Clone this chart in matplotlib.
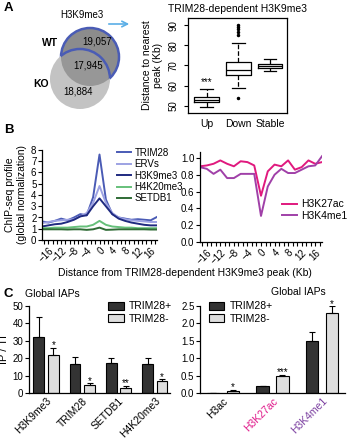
import matplotlib
matplotlib.use('Agg')
import matplotlib.pyplot as plt
import numpy as np
from matplotlib.patches import Circle
from matplotlib.ticker import MultipleLocator

plt.rcParams['font.family'] = ['Liberation Sans', 'DejaVu Sans']
plt.rcParams['axes.linewidth'] = 0.9

# ---- data ----
# A: venn counts
venn_wt_only = 19057
venn_both = 17945
venn_ko_only = 18884

# A: boxplot stats (distance to nearest peak, Kb)
box_labels = ['Up', 'Down', 'Stable']
box_q1 = [51.8, 65.3, 68.9]
box_med = [52.8, 68.0, 69.8]
box_q3 = [54.3, 71.6, 70.6]
box_lo = [49.3, 58.7, 67.3]
box_hi = [58.2, 81.0, 73.1]
box_fliers = [[], [54.1, 85.2, 86.7, 88.2, 89.2, 90.2], []]

# B: profiles
dist = [-18, -16, -14, -12, -10, -8, -6, -4, -2, 0, 2, 4, 6, 8, 10, 12, 14, 16, 18]
trim28 = [1.65, 1.55, 1.7, 1.9, 1.75, 2.0, 2.3, 2.2, 3.8, 7.6, 3.6, 2.3, 2.0, 1.9, 1.8, 1.85, 1.8, 1.75, 2.05]
ervs = [1.5, 1.6, 1.7, 1.75, 1.8, 1.85, 2.1, 2.4, 3.3, 4.8, 3.3, 2.4, 2.0, 1.85, 1.75, 1.7, 1.65, 1.6, 1.6]
h3k9me3 = [1.2, 1.3, 1.4, 1.45, 1.6, 1.8, 2.1, 2.2, 3.0, 3.7, 3.0, 2.3, 1.9, 1.7, 1.55, 1.45, 1.35, 1.3, 1.3]
h4k20me3 = [1.05, 1.05, 1.1, 1.1, 1.1, 1.15, 1.2, 1.2, 1.35, 1.7, 1.35, 1.2, 1.15, 1.1, 1.1, 1.05, 1.05, 1.05, 1.05]
setdb1 = [0.95, 0.95, 0.95, 0.95, 0.93, 0.95, 0.95, 0.9, 0.95, 1.1, 0.9, 0.92, 0.95, 0.95, 0.95, 0.95, 0.95, 0.93, 0.93]
h3k27ac = [0.90, 0.91, 0.93, 0.97, 0.93, 0.90, 0.96, 0.95, 0.91, 0.55, 0.84, 0.92, 0.90, 0.97, 0.86, 0.89, 0.97, 0.93, 0.95]
h3k4me1 = [0.89, 0.87, 0.81, 0.86, 0.76, 0.76, 0.81, 0.81, 0.81, 0.31, 0.66, 0.80, 0.87, 0.82, 0.82, 0.86, 0.90, 0.91, 1.02]

# C: ChIP-qPCR global IAPs
c1_marks = ['H3K9me3', 'TRIM28', 'SETDB1', 'H4K20me3']
c1_pos = [32.0, 16.5, 17.5, 16.5]
c1_pos_err = [11.5, 4.0, 2.7, 3.5]
c1_neg = [22.0, 4.5, 3.0, 7.0]
c1_neg_err = [4.0, 1.0, 1.3, 1.0]
c1_stars = ['*', '*', '**', '*']

c2_marks = ['H3ac', 'H3K27ac', 'H3K4me1']
c2_pos = [0.01, 0.2, 1.5]
c2_pos_err = [0.0, 0.015, 0.24]
c2_neg = [0.07, 0.5, 2.3]
c2_neg_err = [0.02, 0.02, 0.19]
c2_stars = ['*', '***', '*']
c2_colors = ['black', '#e0198a', '#7b3fa0']

W, H = 347, 440
fig = plt.figure(figsize=(W / 100, H / 100), dpi=100)


def px_axes(x0, y0, x1, y1):
    return fig.add_axes([x0 / W, 1 - y1 / H, (x1 - x0) / W, (y1 - y0) / H])


def ftext(x, y, s, **kw):
    fig.text(x / W, 1 - y / H, s, **kw)


# ---- A: venn ----
ax = px_axes(0, 0, 170, 130)
ax.set_xlim(0, 170)
ax.set_ylim(130, 0)
ax.axis('off')
blue = '#4a5cb5'
wt = Circle((90, 57), 29, fc='#8c8c8c', ec='none')
ax.add_patch(wt)
ax.add_patch(Circle((90, 57), 29, fill=False, ec=blue, lw=1.8))
ax.add_patch(Circle((80, 79), 30, fc='#c3c3c3', ec='none'))
inter = Circle((80, 79), 30, fc='#979797', ec='none')
ax.add_patch(inter)
inter.set_clip_path(wt)
arc = Circle((80, 79), 30, fill=False, ec=blue, lw=1.8)
ax.add_patch(arc)
arc.set_clip_path(wt)
ax.text(97, 42, f'{venn_wt_only:,}', ha='center', va='center', fontsize=7)
ax.text(88, 65, f'{venn_both:,}', ha='center', va='center', fontsize=7)
ax.text(78, 91, f'{venn_ko_only:,}', ha='center', va='center', fontsize=7)
ax.text(50, 43, 'WT', ha='center', va='center', fontsize=7.5, fontweight='bold')
ax.text(41, 84, 'KO', ha='center', va='center', fontsize=7.5, fontweight='bold')
ax.text(82, 15, 'H3K9me3', ha='center', va='center', fontsize=7)
ax.annotate('', xy=(132, 24), xytext=(106, 24),
            arrowprops=dict(arrowstyle='->', color='#5aaee6', lw=1.2, mutation_scale=10))

# ---- A: boxplot ----
ax = px_axes(188, 18, 287, 113)
stats = []
for i in range(3):
    stats.append(dict(med=box_med[i], q1=box_q1[i], q3=box_q3[i], whislo=box_lo[i],
                      whishi=box_hi[i], fliers=box_fliers[i], label=box_labels[i]))
ax.bxp(stats, positions=[1, 2, 3], widths=0.78, capwidths=0.4,
       boxprops=dict(color='k', lw=0.9), whiskerprops=dict(color='k', ls='--', lw=0.9),
       capprops=dict(color='k', lw=0.9), medianprops=dict(color='k', lw=0.9),
       flierprops=dict(marker='.', ms=3, mfc='k', mec='k'))
ax.set_xlim(0.41, 3.54)
ax.set_ylim(46.5, 93.5)
ax.set_yticks([50, 60, 70, 80, 90])
for lab in ax.get_yticklabels():
    lab.set_rotation(90)
    lab.set_va('center')
ax.tick_params(axis='y', labelsize=7, length=3)
ax.tick_params(axis='x', labelsize=7.5, length=0, pad=4)
ax.text(1, 60.5, '***', ha='center', fontsize=7)
ax.set_title('TRIM28-dependent H3K9me3', fontsize=7.5, pad=4)
ax.set_ylabel('Distance to nearest\npeak (Kb)', fontsize=7.5, labelpad=4)

# ---- B: profiles ----
def prep_profile_axes(ax):
    ax.spines['top'].set_visible(False)
    ax.spines['right'].set_visible(False)
    ax.set_xlim(-18, 18)
    ax.set_xticks([-16, -12, -8, -4, 0, 4, 8, 12, 16])
    ax.xaxis.set_minor_locator(MultipleLocator(4 / 3))
    ax.tick_params(which='both', length=3, width=0.8)
    ax.tick_params(axis='x', labelsize=7, pad=1)
    ax.tick_params(axis='y', labelsize=7, pad=1)
    for lab in ax.get_xticklabels():
        lab.set_rotation(45)
        lab.set_ha('right')
        lab.set_rotation_mode('anchor')


ax = px_axes(42, 150, 157, 240)
ax.plot(dist, trim28, color='#4a5bb5', lw=1.4, label='TRIM28')
ax.plot(dist, ervs, color='#9da2e3', lw=1.4, label='ERVs')
ax.plot(dist, h3k9me3, color='#1f2a80', lw=1.4, label='H3K9me3')
ax.plot(dist, h4k20me3, color='#66c07a', lw=1.4, label='H4K20me3')
ax.plot(dist, setdb1, color='#2f6b35', lw=1.4, label='SETDB1')
ax.set_ylim(0, 8)
ax.set_yticks(range(0, 9))
prep_profile_axes(ax)
ax.set_ylabel('ChIP-seq profile\n(global normalization)', fontsize=7.5, labelpad=3)
ax.legend(loc='upper left', bbox_to_anchor=(0.62, 1.07), fontsize=7, frameon=False,
          handlelength=1.4, handletextpad=0.4, labelspacing=0.15, borderaxespad=0)

ax = px_axes(200, 152, 322, 242)
ax.plot(dist, h3k27ac, color='#e0197e', lw=1.4, label='H3K27ac')
ax.plot(dist, h3k4me1, color='#a040a8', lw=1.4, label='H3K4me1')
ax.set_ylim(0, 1.07)
ax.set_yticks([0, 0.2, 0.4, 0.6, 0.8, 1.0])
ax.set_yticklabels(['0.0', '0.2', '0.4', '0.6', '0.8', '1.0'])
prep_profile_axes(ax)
ax.legend(loc='upper left', bbox_to_anchor=(0.64, 0.52), fontsize=7.5, frameon=False,
          handlelength=1.4, handletextpad=0.4, labelspacing=0.15, borderaxespad=0)

ftext(185, 273, 'Distance from TRIM28-dependent H3K9me3 peak (Kb)', ha='center', va='center',
      fontsize=7.5)

# ---- C: bars ----
def bar_panel(ax, marks, pos, pos_err, neg, neg_err, stars, width, off, star_pad):
    x = np.arange(len(marks))
    ax.bar(x - off, pos, width, color='#333333', edgecolor='k', lw=0.8, label='TRIM28+')
    ax.bar(x + off, neg, width, color='#dedede', edgecolor='k', lw=0.8, label='TRIM28-')
    zeros = [0] * len(marks)
    ax.errorbar(x - off, pos, yerr=[zeros, pos_err], fmt='none', ecolor='k', elinewidth=0.8,
                capsize=2.5, capthick=0.8)
    ax.errorbar(x + off, neg, yerr=[zeros, neg_err], fmt='none', ecolor='k', elinewidth=0.8,
                capsize=2.5, capthick=0.8)
    for i in range(len(marks)):
        ax.text(x[i] + off, neg[i] + neg_err[i] + star_pad, stars[i], ha='center', va='center',
                fontsize=7)
    ax.spines['top'].set_visible(False)
    ax.spines['right'].set_visible(False)
    ax.set_xticks(x)
    ax.set_xticklabels(marks, rotation=45, ha='right', rotation_mode='anchor', fontsize=7.5)
    ax.tick_params(axis='x', length=0, pad=2)
    ax.tick_params(axis='y', labelsize=7, length=3, pad=1)


ax = px_axes(29, 306, 170, 393)
bar_panel(ax, c1_marks, c1_pos, c1_pos_err, c1_neg, c1_neg_err, c1_stars, 0.3, 0.2, 1.3)
ax.set_xlim(-0.47, 3.42)
ax.set_ylim(0, 50)
ax.set_yticks([0, 10, 20, 30, 40, 50])
ax.set_ylabel('IP / TI', fontsize=8, labelpad=3)
ax.legend(loc='upper left', bbox_to_anchor=(0.53, 1.1), fontsize=7.5, frameon=False,
          handlelength=1.5, handleheight=0.8, handletextpad=0.5, labelspacing=0.2,
          borderaxespad=0)

ax = px_axes(200, 306, 345, 393)
bar_panel(ax, c2_marks, c2_pos, c2_pos_err, c2_neg, c2_neg_err, c2_stars, 0.25, 0.2, 0.07)
for lab, col in zip(ax.get_xticklabels(), c2_colors):
    lab.set_color(col)
ax.set_xlim(-0.46, 2.46)
ax.set_ylim(0, 2.5)
ax.set_yticks([0, 0.5, 1.0, 1.5, 2.0, 2.5])
ax.set_yticklabels(['0.0', '0.5', '1.0', '1.5', '2.0', '2.5'])
ax.legend(loc='upper left', bbox_to_anchor=(0.03, 1.1), fontsize=7.5, frameon=False,
          handlelength=1.5, handleheight=0.8, handletextpad=0.5, labelspacing=0.2,
          borderaxespad=0)

ftext(52, 294, 'Global IAPs', ha='center', va='center', fontsize=7.5)
ftext(298, 292, 'Global IAPs', ha='center', va='center', fontsize=7.5)

# panel letters
ftext(4, 8, 'A', fontsize=9.5, fontweight='bold', va='center')
ftext(4, 130, 'B', fontsize=9.5, fontweight='bold', va='center')
ftext(4, 294, 'C', fontsize=9.5, fontweight='bold', va='center')

fig.savefig('out.png', dpi=100)
